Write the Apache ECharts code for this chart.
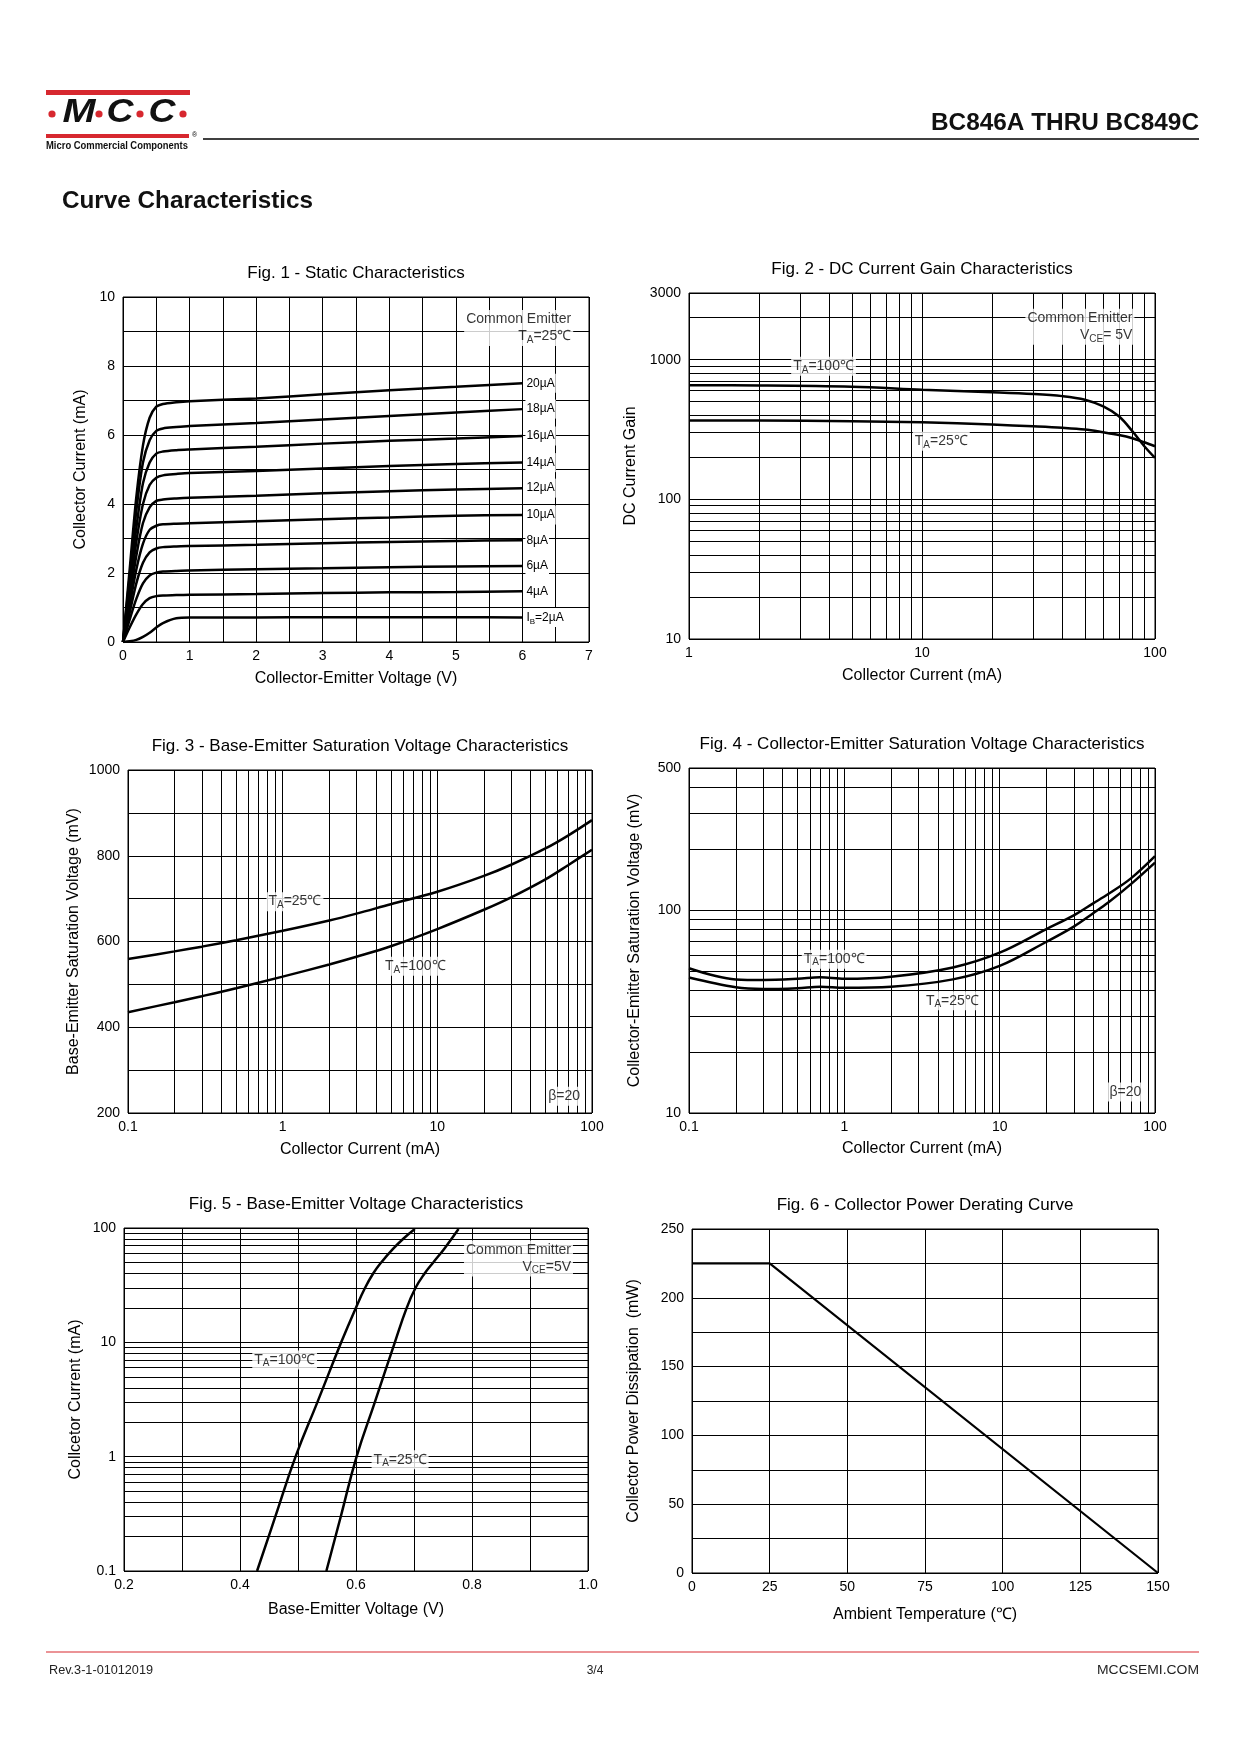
<!DOCTYPE html>
<html>
<head>
<meta charset="utf-8">
<script src="https://cdn.jsdelivr.net/npm/echarts@6/dist/echarts.min.js"></script>
<style>
html,body{margin:0;padding:0;background:#fff;}
#c{width:1240px;height:1754px;}
</style>
</head>
<body>
<div id="c"></div>
<script>
// ---------------- DATA ----------------
// Fig. 1 - Static Characteristics (Vce in V, Ic in mA)
const fig1Vce = [0, 0.1, 0.2, 0.3, 0.4, 0.5, 0.6, 0.8, 1, 2, 3, 4, 5, 6];
const fig1Ic20 = [0, 2.1, 4.2, 5.7, 6.5, 6.82, 6.9, 6.95, 6.98, 7.06, 7.18, 7.3, 7.4, 7.5];
const fig1Ic18 = [0, 1.9, 3.8, 5.2, 5.85, 6.12, 6.19, 6.23, 6.26, 6.35, 6.45, 6.55, 6.65, 6.75];
const fig1Ic16 = [0, 1.7, 3.3, 4.6, 5.2, 5.46, 5.52, 5.56, 5.58, 5.66, 5.75, 5.83, 5.9, 5.97];
const fig1Ic14 = [0, 1.45, 2.9, 4.0, 4.55, 4.76, 4.83, 4.87, 4.9, 4.96, 5.03, 5.1, 5.16, 5.2];
const fig1Ic12 = [0, 1.25, 2.5, 3.45, 3.9, 4.09, 4.13, 4.16, 4.18, 4.24, 4.31, 4.37, 4.42, 4.46];
const fig1Ic10 = [0, 1.05, 2.1, 2.85, 3.25, 3.37, 3.41, 3.43, 3.44, 3.5, 3.56, 3.61, 3.66, 3.68];
const fig1Ic8  = [0, 0.85, 1.7, 2.3, 2.6, 2.71, 2.75, 2.77, 2.78, 2.82, 2.86, 2.9, 2.93, 2.95];
const fig1Ic6  = [0, 0.65, 1.25, 1.7, 1.93, 2.01, 2.04, 2.06, 2.07, 2.11, 2.14, 2.17, 2.19, 2.2];
const fig1Ic4  = [0, 0.42, 0.8, 1.1, 1.27, 1.33, 1.35, 1.36, 1.37, 1.39, 1.42, 1.44, 1.45, 1.47];
const fig1Ic2  = [0, 0.02, 0.06, 0.15, 0.27, 0.42, 0.55, 0.69, 0.71, 0.71, 0.72, 0.72, 0.72, 0.71];
const fig1Labels = ['{n|20µA}', '{n|18µA}', '{n|16µA}', '{n|14µA}', '{n|12µA}', '{n|10µA}', '{n|8µA}', '{n|6µA}', '{n|4µA}', '{n|I}{s|B}{n|=2µA}'];

// Fig. 2 - DC Current Gain (Ic in mA)
const fig2Ic = [1, 2, 5, 10, 20, 30, 40, 50, 60, 70, 80, 90, 100];
const fig2Hfe100 = [655, 653, 640, 610, 585, 568, 548, 517, 463, 393, 307, 240, 198];
const fig2Hfe25  = [366, 366, 362, 356, 343, 333, 325, 316, 302, 289, 274, 256, 240];

// Fig. 3 - Base-Emitter Saturation Voltage (Ic in mA, Vbe(sat) in mV)
const fig3Ic = [0.1, 0.2, 0.3, 0.5, 1, 2, 3, 5, 10, 20, 30, 50, 70, 100];
const fig3Vbe25  = [559, 577, 588, 603, 625, 649, 665, 687, 716, 753, 779, 817, 847, 883];
const fig3Vbe100 = [435, 458.5, 472.5, 491, 518, 546.5, 564.5, 589, 629, 674, 703, 745, 778, 814];

// Fig. 4 - Collector-Emitter Saturation Voltage (Ic in mA, Vce(sat) in mV)
const fig4Ic = [0.1, 0.2, 0.3, 0.5, 0.7, 1, 2, 5, 10, 20, 30, 40, 50, 70, 100];
const fig4Vce100 = [51.6, 45.5, 45.2, 45.8, 46.6, 45.8, 46.9, 52.1, 61.6, 80.5, 94, 107.7, 119.7, 143, 184];
const fig4Vce25  = [46.5, 41.6, 40.8, 41.2, 41.9, 41.4, 41.9, 45.5, 53, 69.7, 82.8, 96.3, 108.7, 134, 171];

// Fig. 5 - Base-Emitter Voltage (Vbe in V, Ic in mA)
const fig5Ic100  = [0.1, 0.3, 1, 3, 10, 20, 30, 40, 50, 66, 81, 98];
const fig5Vbe100 = [0.4294, 0.461, 0.4958, 0.5335, 0.5745, 0.5997, 0.6157, 0.6296, 0.6435, 0.6642, 0.682, 0.7015];
const fig5Ic25   = [0.1, 0.3, 1, 3, 10, 20, 30, 40, 50, 66, 98];
const fig5Vbe25  = [0.5489, 0.5738, 0.601, 0.6325, 0.667, 0.6874, 0.7027, 0.7183, 0.7332, 0.7523, 0.7768];

// Fig. 6 - Collector Power Derating (Ta in ℃, Pd in mW)
const fig6Temp = [0, 25, 150];
const fig6Pd   = [225, 225, 0];

// minor (log) grid lines
const decadeMinor01  = [0.2, 0.3, 0.4, 0.5, 0.6, 0.7, 0.8, 0.9];
const decadeMinor1   = [2, 3, 4, 5, 6, 7, 8, 9];
const decadeMinor10  = [20, 30, 40, 50, 60, 70, 80, 90];
const decadeMinor100 = [200, 300, 400, 500, 600, 700, 800, 900];

// ---------------- STYLE / LAYOUT ----------------
const FONT = '"Liberation Sans", Arial, Helvetica, sans-serif';
const RED = '#d7282f';
const grids = [
  {left: 123, top: 297, width: 466, height: 345},
  {left: 689, top: 293, width: 466, height: 346},
  {left: 128, top: 770, width: 464, height: 343},
  {left: 689, top: 768, width: 466, height: 345},
  {left: 124, top: 1228, width: 464, height: 343},
  {left: 692, top: 1229, width: 466, height: 344}
];
const figTitles = [
  'Fig. 1 - Static Characteristics',
  'Fig. 2 - DC Current Gain Characteristics',
  'Fig. 3 - Base-Emitter Saturation Voltage Characteristics',
  'Fig. 4 - Collector-Emitter Saturation Voltage Characteristics',
  'Fig. 5 - Base-Emitter Voltage Characteristics',
  'Fig. 6 - Collector Power Derating Curve'
];

const rich = (fs) => ({
  n: {fontSize: fs, fontFamily: FONT, color: '#000', lineHeight: 17, align: 'right'},
  s: {fontSize: Math.round(fs * 0.68), fontFamily: FONT, color: '#000', lineHeight: 8, verticalAlign: 'bottom', align: 'right'}
});

function axisBase(extra) {
  return Object.assign({
    axisLine: {show: false},
    axisTick: {show: false},
    axisLabel: {color: '#000', fontSize: 14, fontFamily: FONT, margin: 8},
    splitLine: {show: true, lineStyle: {color: '#000', width: 1}},
    minorTick: {show: false},
    minorSplitLine: {show: false},
    nameLocation: 'middle',
    nameTextStyle: {color: '#000', fontSize: 16, fontFamily: FONT}
  }, extra);
}
const logFmt = v => String(+Number(v).toPrecision(6));

function curve(gi, xs, ys, extra) {
  return Object.assign({
    type: 'line', xAxisIndex: gi, yAxisIndex: gi,
    data: xs.map((x, i) => [x, ys[i]]),
    symbol: 'none', showSymbol: false,
    smooth: 0.35,
    lineStyle: {color: '#000', width: 2.5},
    z: 3, silent: true, animation: false
  }, extra || {});
}
function minorGrid(gi, xs, ys, anchor) {
  return {
    type: 'line', xAxisIndex: gi, yAxisIndex: gi, data: [anchor],
    symbol: 'none', lineStyle: {opacity: 0}, silent: true, z: 1, animation: false,
    markLine: {
      silent: true, symbol: ['none', 'none'], animation: false,
      label: {show: false}, emphasis: {disabled: true},
      lineStyle: {color: '#000', width: 1, type: 'solid'},
      data: xs.map(v => ({xAxis: v})).concat(ys.map(v => ({yAxis: v})))
    }
  };
}
function note(gi, x, y, text, mode, fs) {
  fs = fs || 14;
  return {
    type: 'scatter', xAxisIndex: gi, yAxisIndex: gi, data: [[x, y]],
    symbolSize: 1, itemStyle: {color: 'rgba(0,0,0,0)'}, silent: true, z: 10, animation: false,
    label: {
      show: true, position: mode === 'right' ? 'left' : 'inside', distance: 0,
      formatter: text, backgroundColor: '#fff', padding: [1, 2, 1, 2],
      align: mode === 'right' ? 'right' : 'center',
      rich: rich(fs)
    }
  };
}

// ---------------- AXES ----------------
const xAxes = [
  axisBase({gridIndex: 0, type: 'value', min: 0, max: 7, interval: 0.5,
    axisLabel: {color: '#000', fontSize: 14, fontFamily: FONT, margin: 7,
      formatter: v => Math.abs(v - Math.round(v)) < 1e-6 ? String(Math.round(v)) : ''},
    name: 'Collector-Emitter Voltage (V)', nameGap: 29}),
  axisBase({gridIndex: 1, type: 'log', logBase: 10, min: 1, max: 100,
    axisLabel: {color: '#000', fontSize: 14, fontFamily: FONT, margin: 7, formatter: logFmt},
    name: 'Collector Current (mA)', nameGap: 29}),
  axisBase({gridIndex: 2, type: 'log', logBase: 10, min: 0.1, max: 100,
    axisLabel: {color: '#000', fontSize: 14, fontFamily: FONT, margin: 7, formatter: logFmt},
    name: 'Collector Current (mA)', nameGap: 29}),
  axisBase({gridIndex: 3, type: 'log', logBase: 10, min: 0.1, max: 100,
    axisLabel: {color: '#000', fontSize: 14, fontFamily: FONT, margin: 7, formatter: logFmt},
    name: 'Collector Current (mA)', nameGap: 28}),
  axisBase({gridIndex: 4, type: 'value', min: 0.2, max: 1.0, interval: 0.1,
    axisLabel: {color: '#000', fontSize: 14, fontFamily: FONT, margin: 7,
      formatter: v => { const k = Math.round(v * 10); return k % 2 === 0 ? (k / 10).toFixed(1) : ''; }},
    name: 'Base-Emitter Voltage (V)', nameGap: 31}),
  axisBase({gridIndex: 5, type: 'value', min: 0, max: 150, interval: 25,
    axisLabel: {color: '#000', fontSize: 14, fontFamily: FONT, margin: 7},
    name: 'Ambient Temperature (℃)', nameGap: 34})
];
const yAxes = [
  axisBase({gridIndex: 0, type: 'value', min: 0, max: 10, interval: 1,
    axisLabel: {color: '#000', fontSize: 14, fontFamily: FONT, margin: 8,
      formatter: v => (Math.round(v) % 2 === 0 ? String(Math.round(v)) : '')},
    name: 'Collector Current (mA)', nameGap: 34}),
  axisBase({gridIndex: 1, type: 'log', logBase: 10, min: 10, max: 3000,
    axisLabel: {color: '#000', fontSize: 14, fontFamily: FONT, margin: 8, formatter: logFmt, showMaxLabel: true},
    name: 'DC Current Gain', nameGap: 50}),
  axisBase({gridIndex: 2, type: 'value', min: 200, max: 1000, interval: 100,
    axisLabel: {color: '#000', fontSize: 14, fontFamily: FONT, margin: 8,
      formatter: v => (Math.round(v) % 200 === 0 ? String(Math.round(v)) : '')},
    name: 'Base-Emitter Saturation Voltage (mV)', nameGap: 46}),
  axisBase({gridIndex: 3, type: 'log', logBase: 10, min: 10, max: 500,
    axisLabel: {color: '#000', fontSize: 14, fontFamily: FONT, margin: 8, formatter: logFmt, showMaxLabel: true},
    name: 'Collector-Emitter Saturation Voltage (mV)', nameGap: 46}),
  axisBase({gridIndex: 4, type: 'log', logBase: 10, min: 0.1, max: 100,
    axisLabel: {color: '#000', fontSize: 14, fontFamily: FONT, margin: 8, formatter: logFmt},
    name: 'Collcetor Current (mA)', nameGap: 40}),
  axisBase({gridIndex: 5, type: 'value', min: 0, max: 250, interval: 25,
    axisLabel: {color: '#000', fontSize: 14, fontFamily: FONT, margin: 8,
      formatter: v => (Math.round(v) % 50 === 0 ? String(Math.round(v)) : '')},
    name: 'Collector Power Dissipation  (mW)', nameGap: 50})
];

// ---------------- SERIES ----------------
const series = [];
// Fig 1
const fig1Curves = [fig1Ic20, fig1Ic18, fig1Ic16, fig1Ic14, fig1Ic12, fig1Ic10, fig1Ic8, fig1Ic6, fig1Ic4, fig1Ic2];
fig1Curves.forEach((ys, i) => {
  series.push(curve(0, fig1Vce, ys, {
    smooth: 0.3,
    endLabel: {show: true, formatter: fig1Labels[i], distance: 3, backgroundColor: '#fff', padding: [1, 1, 1, 1], rich: rich(12)}
  }));
});
series.push(note(0, 6.77, 9.1, '{n|Common Emitter}\n{n|T}{s|A}{n|=25℃}', 'right'));
// Fig 2
series.push(minorGrid(1, decadeMinor1.concat(decadeMinor10), decadeMinor10.concat(decadeMinor100, [2000]), [1, 10]));
series.push(curve(1, fig2Ic, fig2Hfe100));
series.push(curve(1, fig2Ic, fig2Hfe25));
series.push(note(1, 82, 1718, '{n|Common Emitter}\n{n|V}{s|CE}{n|= 5V}', 'right'));
series.push(note(1, 3.78, 896, '{n|T}{s|A}{n|=100℃}', 'center'));
series.push(note(1, 12.1, 260, '{n|T}{s|A}{n|=25℃}', 'center'));
// Fig 3
series.push(minorGrid(2, decadeMinor01.concat(decadeMinor1, decadeMinor10), [], [0.1, 200]));
series.push(curve(2, fig3Ic, fig3Vbe25));
series.push(curve(2, fig3Ic, fig3Vbe100));
series.push(note(2, 1.2, 693, '{n|T}{s|A}{n|=25℃}', 'center'));
series.push(note(2, 7.2, 542, '{n|T}{s|A}{n|=100℃}', 'center'));
series.push(note(2, 66, 239, '{n|β=20}', 'center'));
// Fig 4
series.push(minorGrid(3, decadeMinor01.concat(decadeMinor1, decadeMinor10), decadeMinor10.concat([200, 300, 400]), [0.1, 10]));
series.push(curve(3, fig4Ic, fig4Vce100));
series.push(curve(3, fig4Ic, fig4Vce25));
series.push(note(3, 0.86, 57.2, '{n|T}{s|A}{n|=100℃}', 'center'));
series.push(note(3, 4.96, 35.7, '{n|T}{s|A}{n|=25℃}', 'center'));
series.push(note(3, 64.4, 12.7, '{n|β=20}', 'center'));
// Fig 5
series.push(minorGrid(4, [], decadeMinor01.concat(decadeMinor1, decadeMinor10), [0.2, 0.1]));
series.push(curve(4, fig5Vbe100, fig5Ic100, {smooth: 0.45}));
series.push(curve(4, fig5Vbe25, fig5Ic25, {smooth: 0.45}));
series.push(note(4, 0.975, 54, '{n|Common Emitter}\n{n|V}{s|CE}{n|=5V}', 'right'));
series.push(note(4, 0.477, 7.0, '{n|T}{s|A}{n|=100℃}', 'center'));
series.push(note(4, 0.676, 0.94, '{n|T}{s|A}{n|=25℃}', 'center'));
// Fig 6
series.push(curve(5, fig6Temp, fig6Pd, {smooth: false, lineStyle: {color: '#000', width: 2.2}}));

// ---------------- PAGE GRAPHICS ----------------
function fitScale(text, font, w) {
  const ctx = document.createElement('canvas').getContext('2d');
  ctx.font = font;
  const m = ctx.measureText(text).width;
  return m > 0 ? w / m : 1;
}
function gText(x, y, text, font, align, fill, targetW, extra) {
  const el = {
    type: 'text', x: x, y: y, silent: true, z: 20,
    style: {text: text, font: font, fill: fill || '#000',
      textAlign: align || 'left', align: align || 'left',
      textVerticalAlign: 'middle', verticalAlign: 'middle'}
  };
  if (targetW) { el.scaleX = fitScale(text, font, targetW); }
  return Object.assign(el, extra || {});
}
const graphics = [];
// logo
graphics.push({type: 'rect', silent: true, shape: {x: 46, y: 90, width: 144, height: 5}, style: {fill: RED}});
graphics.push({type: 'rect', silent: true, shape: {x: 46, y: 134, width: 143, height: 4}, style: {fill: RED}});
[52, 99, 140, 183].forEach(cx => graphics.push({type: 'circle', silent: true, shape: {cx: cx, cy: 114, r: 3.6}, style: {fill: RED}}));
graphics.push(gText(79, 113, 'M', 'italic bold 34px ' + FONT, 'center', '#111', 33));
graphics.push(gText(120, 113, 'C', 'italic bold 34px ' + FONT, 'center', '#111', 27));
graphics.push(gText(162, 113, 'C', 'italic bold 34px ' + FONT, 'center', '#111', 27));
graphics.push(gText(192, 135, '®', '7px ' + FONT, 'left'));
graphics.push(gText(46, 146, 'Micro Commercial Components', 'bold 11px ' + FONT, 'left', '#111', 142));
// header
graphics.push({type: 'line', silent: true, shape: {x1: 203, y1: 139, x2: 1199, y2: 139}, style: {stroke: '#000', lineWidth: 1.5}});
graphics.push(gText(1199, 123, 'BC846A THRU BC849C', 'bold 24px ' + FONT, 'right', '#111', 268));
graphics.push(gText(62, 201, 'Curve Characteristics', 'bold 24px ' + FONT, 'left', '#111', 251));
// figure titles
grids.forEach((g, i) => graphics.push(gText(g.left + g.width / 2, g.top - 24, figTitles[i], '17px ' + FONT, 'center')));
// footer
graphics.push({type: 'line', silent: true, shape: {x1: 46, y1: 1652, x2: 1199, y2: 1652}, style: {stroke: RED, lineWidth: 1.2}});
graphics.push(gText(49, 1671, 'Rev.3-1-01012019', '12px ' + FONT, 'left', '#222', 104));
graphics.push(gText(595, 1671, '3/4', '12px ' + FONT, 'center', '#222'));
graphics.push(gText(1199, 1671, 'MCCSEMI.COM', '12px ' + FONT, 'right', '#222', 102));

// ---------------- CHART ----------------
const chart = echarts.init(document.getElementById('c'), null, {renderer: 'canvas', width: 1240, height: 1754});
chart.setOption({
  backgroundColor: '#fff',
  animation: false,
  grid: grids.map(g => Object.assign({show: true, borderColor: '#000', borderWidth: 1, backgroundColor: 'transparent', containLabel: false, outerBoundsMode: 'none'}, g)),
  xAxis: xAxes,
  yAxis: yAxes,
  series: series,
  graphic: {elements: graphics}
});
</script>
</body>
</html>
